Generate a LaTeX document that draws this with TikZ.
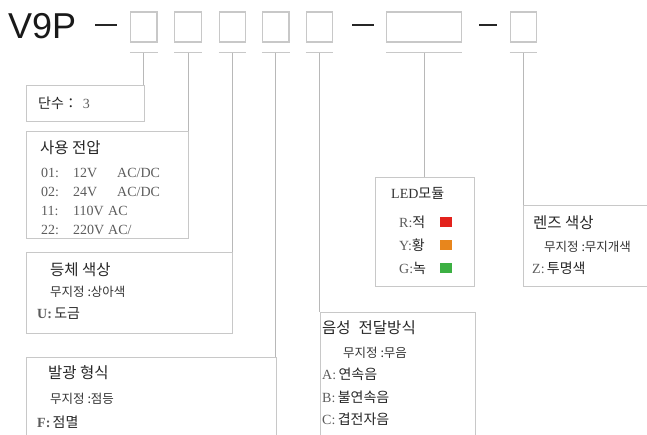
\documentclass[tikz,border=0pt]{standalone}
\usepackage{fontspec}
\setmainfont{Liberation Serif}
\newfontfamily\kr{Noto Sans CJK KR}
\newfontfamily\hd{Liberation Sans}
\definecolor{boxline}{HTML}{C8C8C8}
\definecolor{linkline}{HTML}{B8B8B8}
\definecolor{specgray}{HTML}{5C5C5C}
\definecolor{ledred}{HTML}{E3221C}
\definecolor{ledorange}{HTML}{E8861C}
\definecolor{ledgreen}{HTML}{3CB043}
\tikzset{
  x=1pt, y=-1pt,
  {key box/.style}={draw=boxline, line width=1.2pt, minimum height=30pt, inner sep=0},
  {info box/.style}={draw=boxline, line width=1.2pt, anchor=north west, inner sep=0},
  {tick line/.style}={draw=boxline, line width=1pt},
  {link/.style}={draw=linkline, line width=1pt},
  {part dash/.style}={draw=black!85, line width=2pt},
  {title text/.style}={anchor=west, inner sep=0, text=black!85,
                       font=\kr\fontsize{15.5}{18}\selectfont},
  {note text/.style}={anchor=west, inner sep=0, text=black!80,
                      font=\kr\fontsize{12.5}{15}\selectfont},
  {spec text/.style}={anchor=west, inner sep=0, text=specgray,
                      font=\fontsize{14}{17}\selectfont},
  {led dot/.style}={fill=#1, minimum width=12pt, minimum height=10pt, inner sep=0},
}
\newcommand{\krs}[1]{{\kr\color{black!85}#1}}
\newcommand{\spec}[3]{\makebox[32pt][l]{#1}\makebox[#3][l]{#2}}

\begin{document}
\begin{tikzpicture}
\useasboundingbox (0,0) rectangle (647,434);
\clip (0,0) rectangle (647,434);
% model code
\node[anchor=west, inner sep=0, text=black!90, font=\hd\fontsize{36}{36}\selectfont]
  (model) at (8,26) {V9P};
\draw[part dash] (95,25) -- (117,25);
\draw[part dash] (352,25) -- (374,25);
\draw[part dash] (479,25) -- (497,25);
\foreach \n/\x/\w in {k1/143.8/26.5, k2/188/26.5, k3/232.4/26.5, k4/275.8/26.5,
                      k5/319.5/26.5, k6/424/74.5, k7/523.2/26} {
  \node[key box, minimum width=\w pt] (\n) at (\x,27) {};
  \draw[tick line] ([yshift=-10pt]\n.south west) -- ([yshift=-10pt]\n.south east);
  \coordinate (\n t) at ([yshift=-10pt]\n.south);
}

% option boxes
\node[info box, minimum width=118pt, minimum height=36pt] (stage) at (26,85) {};
\node[info box, minimum width=162pt, minimum height=107pt] (volt) at (26,131) {};
\node[info box, minimum width=206pt, minimum height=81pt] (body) at (26,252) {};
\node[info box, minimum width=250pt, minimum height=100pt] (light) at (26,357) {};
\node[info box, minimum width=155pt, minimum height=140pt] (sound) at (319.5,312) {};
\node[info box, minimum width=99pt, minimum height=109pt] (ledm) at (375,177) {};
\node[info box, minimum width=150pt, minimum height=81pt] (lens) at (523.2,205) {};

\draw[link] (k1t) -- (k1t |- stage.north);
\draw[link] (k2t) -- (k2t |- volt.north);
\draw[link] (k3t) -- (k3t |- body.north);
\draw[link] (k4t) -- (k4t |- light.north);
\draw[link] (k5t) -- (k5t |- sound.north);
\draw[link] (k6t) -- (k6t |- ledm.north);
\draw[link] (k7t) -- (k7t |- lens.north);

% texts
\node[spec text] (stage t) at (38,103) {\krs{단수：}\hspace{5pt}3};
\node[title text] (volt t) at (40,148) {사용 전압};
\node[spec text] (volt a) at (41,173) {\spec{01:}{12V}{44pt}AC/DC};
\node[spec text] (volt b) at (41,192) {\spec{02:}{24V}{44pt}AC/DC};
\node[spec text] (volt c) at (41,211) {\spec{11:}{110V}{35pt}AC};
\node[spec text] (volt d) at (41,230) {\spec{22:}{220V}{35pt}AC/};

\node[title text] (body t) at (50,270) {등체 색상};
\node[note text] (body a) at (50,292) {무지정 :상아색};
\node[spec text] (body b) at (37,314) {\textbf{U:}\,\krs{도금}};

\node[title text] (light t) at (48,373) {발광 형식};
\node[note text] (light a) at (50,399) {무지정 :점등};
\node[spec text] (light b) at (37,422) {\textbf{F:}\,\krs{점멸}};

\node[spec text, text=black!80] (ledm t) at (391,193) {LED\krs{모듈}};
\node[spec text] (ledm r) at (399,222) {R:\krs{적}};
\node[spec text] (ledm y) at (399,245) {Y:\krs{황}};
\node[spec text] (ledm g) at (399,268) {G:\krs{녹}};
\node[led dot=ledred] (dot r) at (446,222) {};
\node[led dot=ledorange] (dot y) at (446,245) {};
\node[led dot=ledgreen] (dot g) at (446,268) {};

\node[title text] (lens t) at (533,223) {렌즈 색상};
\node[note text] (lens a) at (544,247) {무지정 :무지개색};
\node[spec text] (lens b) at (532,268) {Z:\,\krs{투명색}};

\node[title text] (sound t) at (322,328) {음성\hspace{8pt}전달방식};
\node[note text] (sound a) at (343,353) {무지정 :무음};
\node[spec text] (sound b) at (322,374) {A:\,\krs{연속음}};
\node[spec text] (sound c) at (322,397) {B:\,\krs{불연속음}};
\node[spec text] (sound d) at (322,419) {C:\,\krs{겹전자음}};
\end{tikzpicture}
\end{document}
